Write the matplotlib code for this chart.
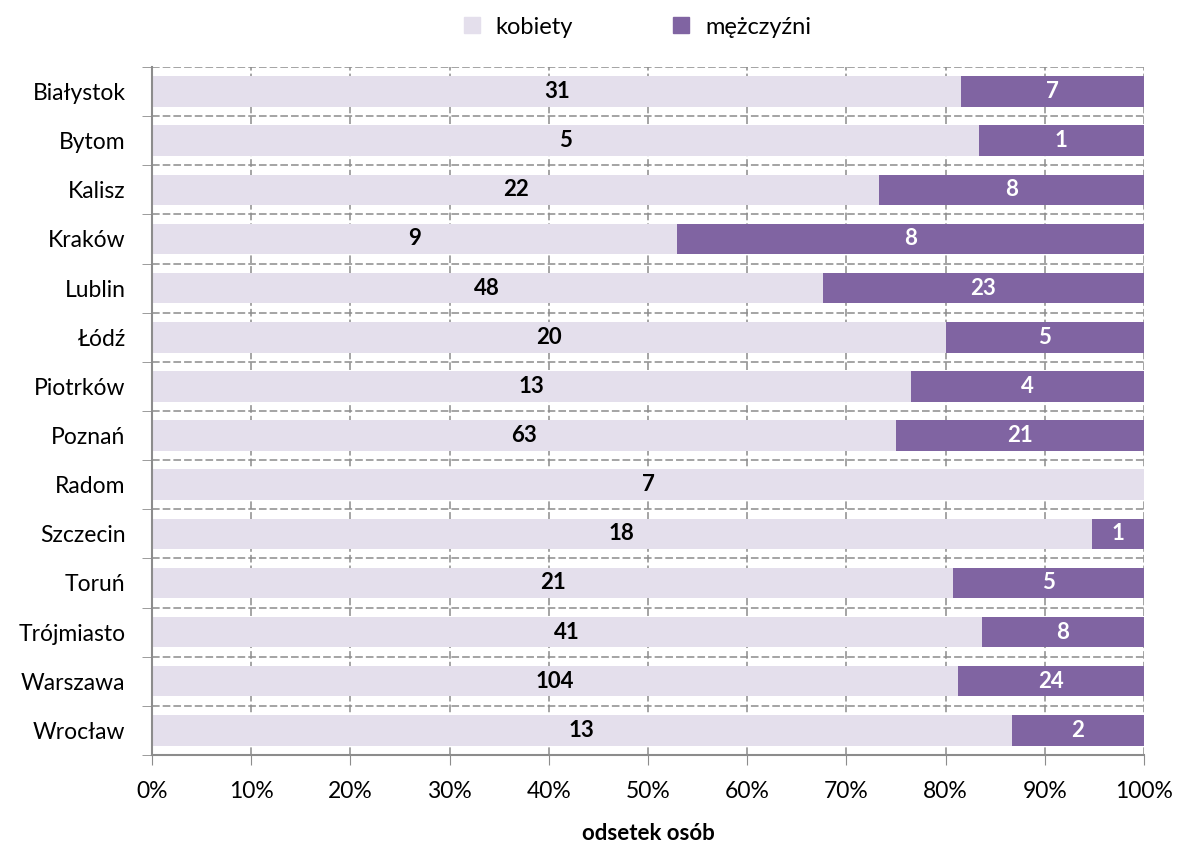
import matplotlib.pyplot as plt
import numpy as np
from matplotlib.ticker import FixedLocator, PercentFormatter
from matplotlib.lines import Line2D

plt.rcParams['font.family'] = ['Lato', 'DejaVu Sans']

cities = ['Białystok', 'Bytom', 'Kalisz', 'Kraków', 'Lublin', 'Łódź', 'Piotrków',
          'Poznań', 'Radom', 'Szczecin', 'Toruń', 'Trójmiasto', 'Warszawa', 'Wrocław']
women = [31, 5, 22, 9, 48, 20, 13, 63, 7, 18, 21, 41, 104, 13]
men = [7, 1, 8, 8, 23, 5, 4, 21, 0, 1, 5, 8, 24, 2]

c_women = '#E4DFEC'
c_men = '#8064A2'
grid_c = '#8C8C8C'

w = np.array(women, dtype=float)
m = np.array(men, dtype=float)
tot = w + m
fw = w / tot
fm = m / tot
y = np.arange(len(cities))

fig = plt.figure(figsize=(11.81, 8.48), dpi=100)
ax = fig.add_axes([0.1287, 0.1097, 0.9687 - 0.1287, 0.921 - 0.1097])

ax.barh(y, fw, height=0.62, color=c_women, zorder=3)
ax.barh(y, fm, left=fw, height=0.62, color=c_men, zorder=3)

for i in range(len(cities)):
    ax.text(fw[i] / 2, y[i], str(women[i]), ha='center', va='center',
            fontsize=16, fontweight='bold', color='black', zorder=4)
    if men[i] > 0:
        ax.text(fw[i] + fm[i] / 2, y[i], str(men[i]), ha='center', va='center',
                fontsize=16, fontweight='bold', color='white', zorder=4)

ax.set_xlim(0, 1)
ax.set_ylim(len(cities) - 0.5, -0.5)
ax.set_yticks(y)
ax.set_yticklabels(cities, fontsize=16.5)
ax.yaxis.set_minor_locator(FixedLocator(np.arange(-0.5, len(cities), 1.0)))
ax.set_xticks(np.arange(0, 1.01, 0.1))
ax.xaxis.set_major_formatter(PercentFormatter(1.0, decimals=0))
ax.tick_params(axis='x', labelsize=16.5, direction='out', length=7, color=grid_c, pad=12)
ax.tick_params(axis='y', which='major', length=0, pad=19)
ax.tick_params(axis='y', which='minor', length=7, color=grid_c, direction='out')

ax.grid(True, axis='x', which='major', linestyle=(0, (5, 2)), color=grid_c, linewidth=1.1, zorder=1)
ax.grid(True, axis='y', which='minor', linestyle=(0, (5, 2)), color=grid_c, linewidth=1.1, zorder=1)

for s in ['top', 'right']:
    ax.spines[s].set_visible(False)
for s in ['left', 'bottom']:
    ax.spines[s].set_color(grid_c)
    ax.spines[s].set_linewidth(1.5)
    ax.spines[s].set_zorder(5)

ax.set_xlabel('odsetek osób', fontsize=16, fontweight='bold', labelpad=15)

handles = [Line2D([], [], marker='s', linestyle='none', markersize=11, color=c_women),
           Line2D([], [], marker='s', linestyle='none', markersize=11, color=c_men)]
fig.legend(handles, ['kobiety', 'mężczyźni'], loc='center', bbox_to_anchor=(0.533, 0.968),
           ncol=2, frameon=False, fontsize=17, handletextpad=0.0, columnspacing=3.6)

fig.savefig('out.png', dpi=100)
